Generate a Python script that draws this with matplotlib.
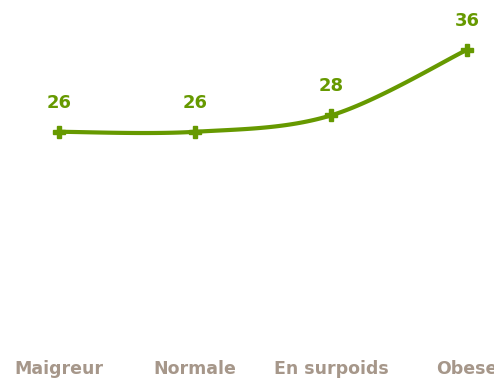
import numpy as np
import matplotlib
matplotlib.use("Agg")
import matplotlib.pyplot as plt

categories = ["Maigreur", "Normale", "En surpoids", "Obese"]
values = [26, 26, 28, 36]

green = "#669900"
label_grey = "#a6978a"


def smooth(xs, ys, n=40, t=1/6):
    # cubic bezier through each point pair, control points from neighbours
    xs = np.asarray(xs, float)
    ys = np.asarray(ys, float)
    px = np.concatenate([[xs[0]], xs, [xs[-1]]])
    py = np.concatenate([[ys[0]], ys, [ys[-1]]])
    out_x, out_y = [], []
    s = np.linspace(0, 1, n)
    for i in range(1, len(px) - 2):
        p0 = np.array([px[i], py[i]])
        p3 = np.array([px[i + 1], py[i + 1]])
        p1 = p0 + t * (np.array([px[i + 1], py[i + 1]]) - np.array([px[i - 1], py[i - 1]]))
        p2 = p3 - t * (np.array([px[i + 2], py[i + 2]]) - np.array([px[i], py[i]]))
        b = ((1 - s) ** 3)[:, None] * p0 + (3 * (1 - s) ** 2 * s)[:, None] * p1 \
            + (3 * (1 - s) * s ** 2)[:, None] * p2 + (s ** 3)[:, None] * p3
        out_x.extend(b[:, 0])
        out_y.extend(b[:, 1])
    return out_x, out_y


fig = plt.figure(figsize=(4.94, 3.78), dpi=100)
ax = fig.add_axes([0, 33 / 378, 1, 345 / 378])

x = np.arange(len(categories))
sx, sy = smooth(x, values)
ax.plot(sx, sy, color=green, lw=3, solid_capstyle="round")
ax.plot(x, values, ls="none", marker="P", ms=9, color=green)

for xi, v in zip(x, values):
    ax.annotate(str(v), (xi, v), xytext=(0, 21), textcoords="offset points",
                ha="center", va="center", fontsize=13, fontweight="bold", color=green)

ax.set_xlim(-59 / 136, 435 / 136)
ax.set_ylim(0, 345 / 8.2)
ax.set_xticks(x)
ax.set_xticklabels(categories, fontsize=12.5, fontweight="bold", color=label_grey)
ax.tick_params(axis="x", length=0, pad=11)
ax.set_yticks([])
for sp in ax.spines.values():
    sp.set_visible(False)

fig.savefig("out.png", dpi=100)
